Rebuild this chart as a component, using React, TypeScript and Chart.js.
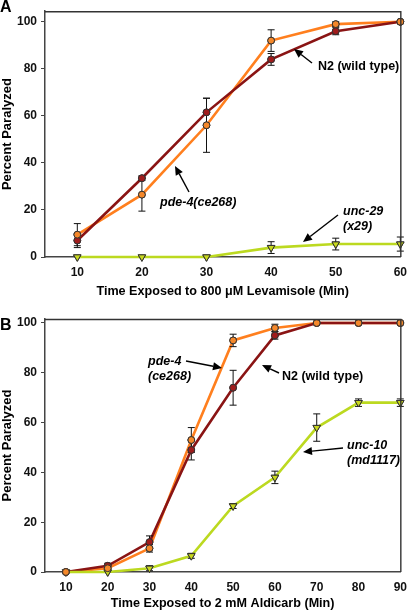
import React, { useEffect, useRef } from "react";
import { Chart, registerables } from "chart.js";
Chart.register(...registerables);

// ---- Panel A data (Levamisole) ----
const xA = [10, 20, 30, 40, 50, 60];
const n2A = [7, 33.5, 61.5, 84, 96, 100];
const n2AErr = [3, 1, 6, 2.5, 1.5, 0];
const pdeA = [9.5, 26.5, 56, 92, 99, 100];
const pdeAErr = [4.7, 7, 11.5, 4.6, 1, 0];
const uncA = [0, 0, 0, 4, 5.5, 5.5];
const uncAErr = [0, 0, 0, 2.5, 2.5, 3];

// ---- Panel B data (Aldicarb) ----
const xB = [10, 20, 30, 40, 50, 60, 70, 80, 90];
const n2B = [0, 2.5, 12, 49, 74, 95, 100, 100, 100];
const n2BErr = [0, 1, 2.5, 4, 7, 1.5, 0, 0, 0];
const pdeB = [0, 1.5, 9.5, 53, 93, 98, 100, 100, 100];
const pdeBErr = [0, 1, 1.5, 5, 2.5, 1.5, 0, 0, 0];
const uncB = [0, 0, 1.5, 6.5, 26.5, 38, 58, 68, 68];
const uncBErr = [0, 0, 1, 1, 1, 2.5, 5.5, 1.5, 1.5];

const yTicks = [0, 20, 40, 60, 80, 100];

const FONT = "'Liberation Sans', Arial, Helvetica, sans-serif";
const C_N2 = "#8a1414";
const C_PDE = "#ff7f1e";
const C_UNC = "#bcd920";

type Ann = { lines: string[]; x: number; y: number; italic: boolean; arrow?: number[] };

const makeDs = (xs: number[], ys: number[], errs: number[], color: string, fill: string, tri: boolean) => ({
  data: xs.map((x, i) => ({ x, y: ys[i] })),
  errs,
  borderColor: color,
  backgroundColor: fill,
  borderWidth: 2.6,
  pointRadius: tri ? 4.3 : 3.4,
  pointStyle: tri ? "triangle" : "circle",
  rotation: tri ? 180 : 0,
  pointBorderColor: "#333",
  pointBorderWidth: 1,
  pointBackgroundColor: fill,
  tension: 0,
  clip: false,
});

const errPlugin = {
  id: "errbars",
  afterDatasetsDraw(chart: any) {
    const ctx = chart.ctx;
    const xs = chart.scales.x;
    const ys = chart.scales.y;
    ctx.save();
    ctx.strokeStyle = "#111";
    ctx.lineWidth = 1;
    chart.data.datasets.forEach((ds: any) => {
      ds.data.forEach((p: any, i: number) => {
        const e = ds.errs[i];
        if (!e) return;
        const px = xs.getPixelForValue(p.x);
        const top = ys.getPixelForValue(p.y + e);
        const bot = ys.getPixelForValue(p.y - e);
        ctx.beginPath();
        ctx.moveTo(px, top);
        ctx.lineTo(px, bot);
        ctx.moveTo(px - 3.5, top);
        ctx.lineTo(px + 3.5, top);
        ctx.moveTo(px - 3.5, bot);
        ctx.lineTo(px + 3.5, bot);
        ctx.stroke();
      });
    });
    // redraw points on top of the bars
    chart.data.datasets.forEach((ds: any, di: number) => {
      const meta = chart.getDatasetMeta(di);
      meta.data.forEach((el: any) => el.draw(ctx, undefined));
    });
    ctx.restore();
  },
};

const framePlugin = {
  id: "frame",
  afterDraw(chart: any, _a: any, opts: any) {
    const { ctx, chartArea } = chart;
    ctx.save();
    ctx.strokeStyle = "#333";
    ctx.lineWidth = 1.4;
    ctx.beginPath();
    ctx.moveTo(chartArea.left, chartArea.top + 0.5);
    ctx.lineTo(chartArea.right + 0.5, chartArea.top + 0.5);
    ctx.lineTo(chartArea.right + 0.5, chartArea.bottom);
    ctx.stroke();
    // panel letter
    ctx.fillStyle = "#000";
    ctx.font = `bold 16px ${FONT}`;
    ctx.textBaseline = "middle";
    ctx.textAlign = "left";
    ctx.fillText(opts.letter, 0, opts.letterY);
    // annotations
    (opts.anns as Ann[]).forEach((a) => {
      ctx.font = `${a.italic ? "italic " : ""}bold 12.5px ${FONT}`;
      ctx.fillStyle = "#000";
      a.lines.forEach((l, i) => ctx.fillText(l, a.x, a.y + i * 15));
      if (a.arrow) {
        const [x1, y1, x2, y2] = a.arrow;
        ctx.strokeStyle = "#000";
        ctx.lineWidth = 1.4;
        const ang = Math.atan2(y2 - y1, x2 - x1);
        const hl = 9;
        const bx = x2 - hl * Math.cos(ang);
        const by = y2 - hl * Math.sin(ang);
        ctx.beginPath();
        ctx.moveTo(x1, y1);
        ctx.lineTo(bx, by);
        ctx.stroke();
        ctx.beginPath();
        ctx.moveTo(x2, y2);
        ctx.lineTo(bx + 4 * Math.sin(ang), by - 4 * Math.cos(ang));
        ctx.lineTo(bx - 4 * Math.sin(ang), by + 4 * Math.cos(ang));
        ctx.closePath();
        ctx.fill();
      }
    });
    ctx.restore();
  },
};

function makeConfig(p: {
  xs: number[];
  xMax: number;
  yMax: number;
  series: any[];
  title: string;
  topPad: number;
  xHeight: number;
  letter: string;
  letterY: number;
  anns: Ann[];
}) {
  return {
    type: "line",
    data: { datasets: p.series },
    plugins: [errPlugin, framePlugin],
    options: {
      animation: false,
      responsive: false,
      devicePixelRatio: 1,
      layout: { padding: { left: 0, right: 8, top: p.topPad, bottom: 0 } },
      plugins: {
        legend: { display: false },
        tooltip: { enabled: false },
        frame: { letter: p.letter, letterY: p.letterY, anns: p.anns },
      },
      scales: {
        x: {
          type: "linear",
          min: 5,
          max: p.xMax,
          afterBuildTicks: (a: any) => {
            a.ticks = p.xs.map((v) => ({ value: v }));
          },
          afterFit: (s: any) => {
            s.height = p.xHeight;
          },
          grid: { display: false, drawTicks: false },
          border: { display: true, color: "#444", width: 1.5 },
          ticks: { color: "#111", font: { family: FONT, weight: "bold", size: 12 }, padding: 8, maxRotation: 0 },
          title: {
            display: true,
            text: p.title,
            color: "#000",
            font: { family: FONT, weight: "bold", size: 12.6 },
            padding: { top: 0, bottom: 1 },
          },
        },
        y: {
          min: 0,
          max: p.yMax,
          afterBuildTicks: (a: any) => {
            a.ticks = yTicks.map((v) => ({ value: v }));
          },
          afterFit: (s: any) => {
            s.width = 45;
          },
          grid: { drawOnChartArea: false, drawTicks: true, tickLength: 4, color: "#444" },
          border: { display: true, color: "#444", width: 1.5 },
          ticks: { color: "#111", font: { family: FONT, weight: "bold", size: 12 }, padding: 4 },
          title: {
            display: true,
            text: "Percent Paralyzed",
            color: "#000",
            font: { family: FONT, weight: "bold", size: 13 },
            padding: { top: 0, bottom: 2 },
          },
        },
      },
    },
  };
}

function Panel(props: { cfg: any; top: number; height: number }) {
  const ref = useRef<HTMLCanvasElement>(null);
  useEffect(() => {
    const chart = new Chart(ref.current as HTMLCanvasElement, props.cfg);
    return () => chart.destroy();
  }, []);
  return (
    <div style={{ position: "absolute", left: 0, top: props.top, width: 415, height: props.height }}>
      <canvas ref={ref} width={415} height={props.height} style={{ width: 415, height: props.height }} />
    </div>
  );
}

export default function App() {
  const cfgA = makeConfig({
    xs: xA,
    xMax: 60,
    yMax: 104.5,
    series: [
      makeDs(xA, uncA, uncAErr, C_UNC, "#c8d81e", true),
      makeDs(xA, n2A, n2AErr, C_N2, "#a01c1c", false),
      makeDs(xA, pdeA, pdeAErr, C_PDE, "#f5882a", false),
    ],
    title: "Time Exposed to 800 \u03BCM Levamisole (Min)",
    topPad: 2,
    xHeight: 43,
    letter: "A",
    letterY: 8,
    anns: [
      { lines: ["N2 (wild type)"], x: 318, y: 67, italic: false, arrow: [312, 63, 294, 49] },
      { lines: ["pde-4(ce268)"], x: 160, y: 203, italic: true, arrow: [189, 192, 175, 166] },
      { lines: ["unc-29", "(x29)"], x: 343, y: 212, italic: true, arrow: [338, 215, 303, 242] },
    ],
  });
  const cfgB = makeConfig({
    xs: xB,
    xMax: 90,
    yMax: 101.6,
    series: [
      makeDs(xB, uncB, uncBErr, C_UNC, "#c8d81e", true),
      makeDs(xB, n2B, n2BErr, C_N2, "#a01c1c", false),
      makeDs(xB, pdeB, pdeBErr, C_PDE, "#f5882a", false),
    ],
    title: "Time Exposed to 2 mM Aldicarb (Min)",
    topPad: 19,
    xHeight: 40,
    letter: "B",
    letterY: 25.5,
    anns: [
      { lines: ["pde-4", "(ce268)"], x: 148, y: 62, italic: true, arrow: [186, 61, 222, 68] },
      { lines: ["N2 (wild type)"], x: 282, y: 77, italic: false, arrow: [279, 73, 262, 65] },
      { lines: ["unc-10", "(md1117)"], x: 347, y: 146, italic: true, arrow: [343, 148, 303, 152] },
    ],
  });
  return (
    <div style={{ position: "absolute", left: 0, top: 0, width: 415, height: 612, background: "#fff" }}>
      <Panel cfg={cfgA} top={0} height={300} />
      <Panel cfg={cfgB} top={300} height={312} />
    </div>
  );
}
